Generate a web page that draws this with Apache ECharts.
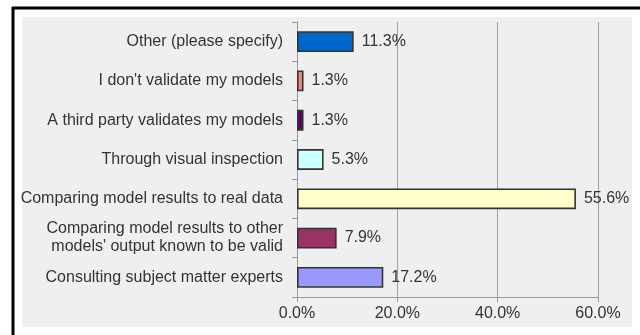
<!DOCTYPE html>
<html><head><meta charset="utf-8">
<script src="https://cdn.jsdelivr.net/npm/echarts@6/dist/echarts.min.js"></script>
<style>html,body{margin:0;padding:0;background:#fff}#c{width:640px;height:335px}</style>
</head><body><div id="c"></div>
<script>
const categories = [
  "Other (please specify)",
  "I don't validate my models",
  "A third party validates my models",
  "Through visual inspection",
  "Comparing model results to real data",
  "Comparing model results to other\nmodels' output known to be valid",
  "Consulting subject matter experts"
];
const values = [11.3, 1.3, 1.3, 5.3, 55.6, 7.9, 17.2];
const barColors = ["#0066CC", "#FF8080", "#660066", "#CCFFFF", "#FFFFCC", "#993366", "#9999FF"];
const xTicks = [0, 20, 40, 60];

const chart = echarts.init(document.getElementById('c'), null, {renderer: 'canvas'});
chart.setOption({
  animation: false,
  textStyle: {fontFamily: 'Liberation Sans, Arial, sans-serif'},
  graphic: [
    {type: 'rect', z: -10, shape: {x: 22, y: 17, width: 610, height: 310}, style: {fill: '#EFEFEF'}},
    {type: 'line', z: 10, shape: {x1: 12, y1: 8, x2: 640, y2: 8}, style: {stroke: '#000', lineWidth: 3}},
    {type: 'line', z: 10, shape: {x1: 13, y1: 7, x2: 13, y2: 335}, style: {stroke: '#000', lineWidth: 3}}
  ],
  grid: {left: 297, right: 42, top: 22, bottom: 38, containLabel: false},
  xAxis: {
    type: 'value', min: xTicks[0], max: xTicks[xTicks.length - 1], interval: 20,
    axisLine: {show: true, lineStyle: {color: '#999'}},
    axisTick: {show: true, length: 5, lineStyle: {color: '#999'}},
    splitLine: {show: true, lineStyle: {color: '#A0A0A0', width: 1}},
    axisLabel: {formatter: v => v.toFixed(1) + '%', color: '#333', fontSize: 16, margin: 9}
  },
  yAxis: {
    type: 'category', data: categories, inverse: true,
    axisLine: {show: true, lineStyle: {color: '#999'}},
    axisTick: {show: true, length: 5, lineStyle: {color: '#999'}},
    axisLabel: {color: '#333', fontSize: 16, margin: 14, lineHeight: 18, align: 'right'}
  },
  series: [{
    type: 'bar',
    data: values.map((v, i) => ({value: v, itemStyle: {color: barColors[i]}})),
    barWidth: '53%',
    itemStyle: {borderColor: '#333', borderWidth: 1.6},
    label: {show: true, position: 'right', distance: 8, color: '#333', fontSize: 16,
            formatter: p => p.value.toFixed(1) + '%'}
  }]
});
</script></body></html>
